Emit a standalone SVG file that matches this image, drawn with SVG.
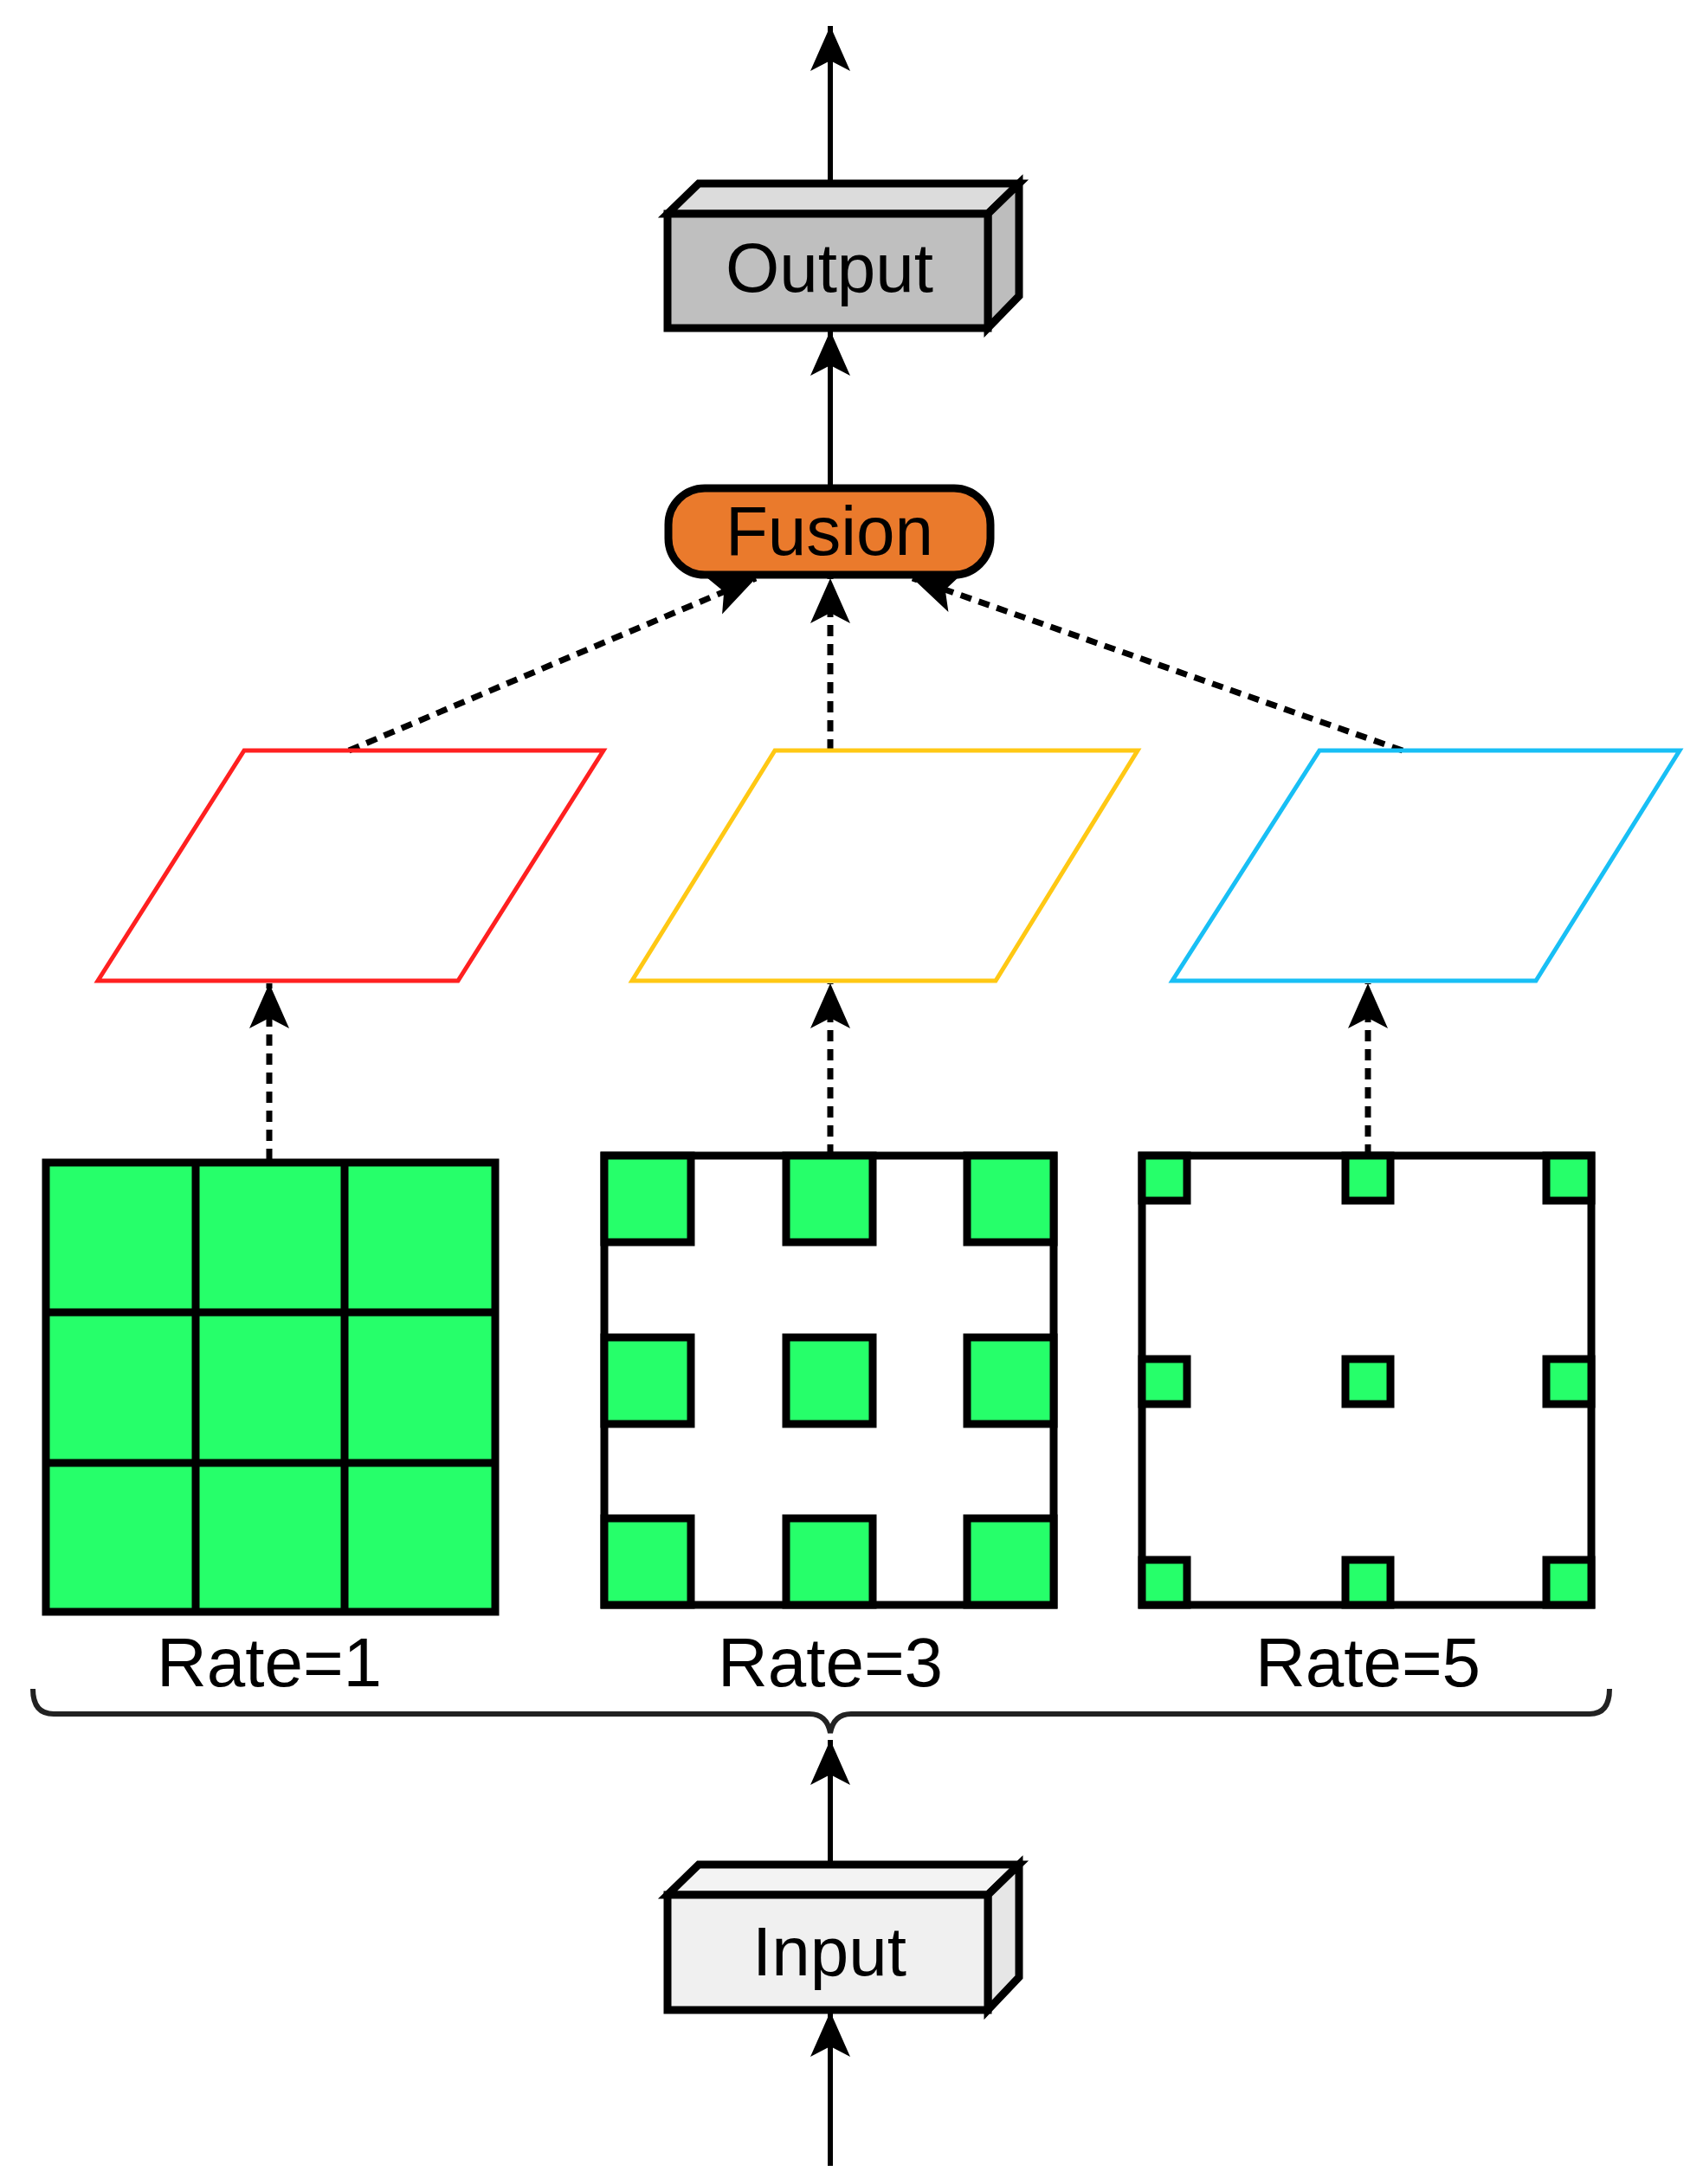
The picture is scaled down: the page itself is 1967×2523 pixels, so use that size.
<svg xmlns="http://www.w3.org/2000/svg" width="1967" height="2523" viewBox="0 0 1967 2523">
<style>
.ln{stroke:#000;stroke-width:6;fill:none}
.dt{stroke:#000;stroke-width:7;fill:none;stroke-dasharray:13 9}
.bx{stroke:#000;stroke-width:9}
.g{fill:#26ff6a;stroke:#000;stroke-width:9}
.t{font-family:"Liberation Sans",Arial,sans-serif;font-size:80px;fill:#000;text-anchor:middle}
</style>
<defs>
<marker id="ah" markerUnits="userSpaceOnUse" markerWidth="60" markerHeight="50" refX="52" refY="23" orient="auto">
<path d="M0,0 L52,23 L0,46 L12,23 Z" fill="#000"/>
</marker>
</defs>
<rect width="1967" height="2523" fill="#fff"/>
<g id="connectors">
<line class="ln" x1="959" y1="212" x2="959" y2="30" marker-end="url(#ah)"/>
<line class="ln" x1="959" y1="564" x2="959" y2="382" marker-end="url(#ah)"/>
<line class="dt" x1="403" y1="867" x2="873" y2="668" marker-end="url(#ah)"/>
<line class="dt" x1="959" y1="867" x2="959" y2="668" marker-end="url(#ah)"/>
<line class="dt" x1="1620" y1="867" x2="1054" y2="668" marker-end="url(#ah)"/>
<line class="dt" x1="311" y1="1340" x2="311" y2="1136" marker-end="url(#ah)"/>
<line class="dt" x1="959" y1="1335" x2="959" y2="1136" marker-end="url(#ah)"/>
<line class="dt" x1="1580" y1="1335" x2="1580" y2="1136" marker-end="url(#ah)"/>
<line class="ln" x1="959" y1="2189" x2="959" y2="2010" marker-end="url(#ah)"/>
<line class="ln" x1="959" y1="2502" x2="959" y2="2324" marker-end="url(#ah)"/>
<path d="M38,1951 Q38,1980 62,1980 L935,1980 Q955,1980 959,2002 Q963,1980 983,1980 L1836,1980 Q1859,1980 1859,1951" stroke="#222" stroke-width="6" fill="none"/>
</g>
<g id="output">
<polygon class="bx" points="771,247 807,212 1177,212 1141,247" fill="#dcdcdc"/>
<polygon class="bx" points="1141,247 1177,212 1177,342 1141,379" fill="#bdbdbd"/>
<rect class="bx" x="771" y="247" width="370" height="132" fill="#bfbfbf"/>
<text class="t" x="958" y="337">Output</text>
</g>
<g id="fusion">
<rect class="bx" x="772" y="564" width="372" height="100" rx="42" fill="#ea7a2c"/>
<text class="t" x="958" y="641">Fusion</text>
</g>
<g id="map1"><polygon points="282,867 697,867 529,1133 113,1133" fill="none" stroke="#ff2020" stroke-width="5"/></g>
<g id="map3"><polygon points="895,867 1314,867 1150,1133 730,1133" fill="none" stroke="#ffc814" stroke-width="5"/></g>
<g id="map5"><polygon points="1524,867 1940,867 1774,1133 1354,1133" fill="none" stroke="#18bff5" stroke-width="5"/></g>
<g id="grid1">
<rect class="g" x="53" y="1343" width="519" height="519"/>
<path class="ln" style="stroke-width:9" d="M226,1343V1862M398,1343V1862M53,1516H572M53,1690H572"/>
<text class="t" x="311" y="1948">Rate=1</text>
</g>
<g id="grid3">
<rect x="698" y="1335" width="519" height="519" fill="#fff" stroke="#000" stroke-width="9"/>
<rect class="g" x="698" y="1335" width="100" height="100"/><rect class="g" x="908" y="1335" width="100" height="100"/><rect class="g" x="1117" y="1335" width="100" height="100"/>
<rect class="g" x="698" y="1545" width="100" height="100"/><rect class="g" x="908" y="1545" width="100" height="100"/><rect class="g" x="1117" y="1545" width="100" height="100"/>
<rect class="g" x="698" y="1754" width="100" height="100"/><rect class="g" x="908" y="1754" width="100" height="100"/><rect class="g" x="1117" y="1754" width="100" height="100"/>
<text class="t" x="959" y="1948">Rate=3</text>
</g>
<g id="grid5">
<rect x="1319" y="1335" width="519" height="519" fill="#fff" stroke="#000" stroke-width="9"/>
<rect class="g" x="1319" y="1335" width="52" height="52"/><rect class="g" x="1554" y="1335" width="52" height="52"/><rect class="g" x="1786" y="1335" width="52" height="52"/>
<rect class="g" x="1319" y="1570" width="52" height="52"/><rect class="g" x="1554" y="1570" width="52" height="52"/><rect class="g" x="1786" y="1570" width="52" height="52"/>
<rect class="g" x="1319" y="1802" width="52" height="52"/><rect class="g" x="1554" y="1802" width="52" height="52"/><rect class="g" x="1786" y="1802" width="52" height="52"/>
<text class="t" x="1580" y="1948">Rate=5</text>
</g>
<g id="input">
<polygon class="bx" points="771,2189 807,2154 1177,2154 1141,2189" fill="#f3f3f3"/>
<polygon class="bx" points="1141,2189 1177,2154 1177,2284 1141,2322" fill="#e6e6e6"/>
<rect class="bx" x="771" y="2189" width="370" height="133" fill="#f0f0f0"/>
<text class="t" x="958" y="2282">Input</text>
</g>
</svg>
